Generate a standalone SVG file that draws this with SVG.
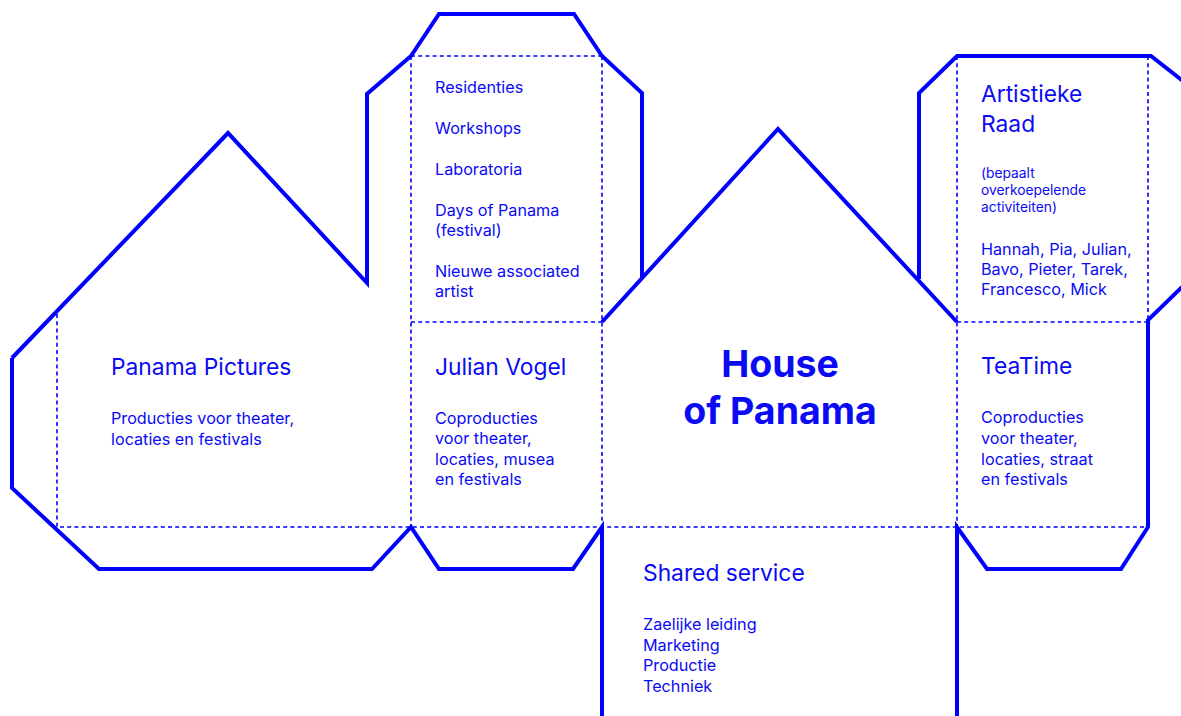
<svg xmlns="http://www.w3.org/2000/svg" width="1181" height="716" viewBox="0 0 1181 716">
<style>
.out{fill:none;stroke:#0000ff;stroke-width:4;stroke-linejoin:miter;stroke-linecap:butt}
.fold{fill:none;stroke:#0000ff;stroke-width:1.6;stroke-dasharray:4 3.2}
text{font-family:Inter,"Noto Sans","Liberation Sans",sans-serif;fill:#0a0af5}
.t{font-size:22.8px}
.b{font-size:16.2px}
.s{font-size:13.8px}
.h{font-size:37.5px;font-weight:700;text-anchor:middle}
</style>
<rect width="1181" height="716" fill="#ffffff"/>
<g id="connectors">
<path class="out" d="M12 358 L228 133 L367 283 L367 94 L411 56 L439 14 L574 14 L602 56 L642 93 L642 277"/>
<path class="out" d="M12 358 L12 488 L99 569 L372 569 L411 527 L439 569 L573 569 L602 527 L602 716"/>
<path class="out" d="M602 322 L778 129 L957 322"/>
<path class="out" d="M919 279 L919 93 L957 56 L1151 56 L1183 81"/>
<path class="out" d="M957 716 L957 527 L987 569 L1121 569 L1148 527 L1148 320 L1183 286"/>
<path class="fold" d="M57 314 L57 527 L1148 527"/>
<path class="fold" d="M411 56 L602 56 M411 56 L411 527 M602 56 L602 527 M411 322 L602 322"/>
<path class="fold" d="M957 56 L957 527 M1148 56 L1148 320 M957 322 L1148 322"/>
</g>
<g id="panama-pictures">
<text class="t" x="111" y="375">Panama Pictures</text>
<text class="b" x="111" y="424">Producties voor theater,</text>
<text class="b" x="111" y="445">locaties en festivals</text>
</g>
<g id="activities">
<text class="b" x="435" y="93">Residenties</text>
<text class="b" x="435" y="134">Workshops</text>
<text class="b" x="435" y="175">Laboratoria</text>
<text class="b" x="435" y="216">Days of Panama</text>
<text class="b" x="435" y="236">(festival)</text>
<text class="b" x="435" y="277">Nieuwe associated</text>
<text class="b" x="435" y="297">artist</text>
</g>
<g id="julian-vogel">
<text class="t" x="435" y="375">Julian Vogel</text>
<text class="b" x="435" y="424">Coproducties</text>
<text class="b" x="435" y="444">voor theater,</text>
<text class="b" x="435" y="465">locaties, musea</text>
<text class="b" x="435" y="485">en festivals</text>
</g>
<g id="house-of-panama">
<text class="h" x="780" y="377">House</text>
<text class="h" x="780" y="424">of Panama</text>
</g>
<g id="artistieke-raad">
<text class="t" x="981" y="102">Artistieke</text>
<text class="t" x="981" y="132">Raad</text>
<text class="s" x="981" y="178">(bepaalt</text>
<text class="s" x="981" y="195">overkoepelende</text>
<text class="s" x="981" y="212">activiteiten)</text>
<text class="b" x="981" y="255">Hannah, Pia, Julian,</text>
<text class="b" x="981" y="275">Bavo, Pieter, Tarek,</text>
<text class="b" x="981" y="295">Francesco, Mick</text>
</g>
<g id="teatime">
<text class="t" x="981" y="374">TeaTime</text>
<text class="b" x="981" y="423">Coproducties</text>
<text class="b" x="981" y="444">voor theater,</text>
<text class="b" x="981" y="465">locaties, straat</text>
<text class="b" x="981" y="485">en festivals</text>
</g>
<g id="shared-service">
<text class="t" x="643" y="581">Shared service</text>
<text class="b" x="643" y="630">Zaelijke leiding</text>
<text class="b" x="643" y="651">Marketing</text>
<text class="b" x="643" y="671">Productie</text>
<text class="b" x="643" y="692">Techniek</text>
</g>
</svg>
